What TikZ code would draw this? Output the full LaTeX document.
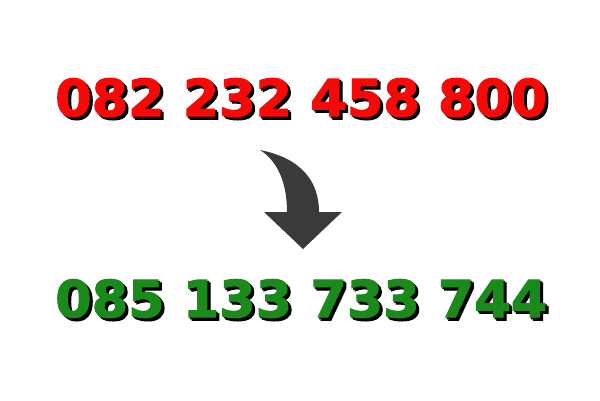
\documentclass[tikz,border=0pt]{standalone}
\usepackage{fontspec}
\usepackage{graphicx}
\newfontfamily\digitfont{DejaVu Sans Bold}[FakeBold=2]
% digits with a black shadow to the lower right, as one box
\newcommand{\shadowcopy}[2]{\makebox[0pt][l]{\hspace{#1}\raisebox{-#1}{\color{black}#2}}}
\newcommand{\phonenum}[2]{\resizebox{492pt}{38pt}{\digitfont
	\shadowcopy{0.03em}{#2}\shadowcopy{0.06em}{#2}\textcolor{#1}{#2}}}
\definecolor{oldred}{RGB}{250,8,8}
\definecolor{newgreen}{RGB}{26,138,26}
\definecolor{arrowgray}{RGB}{58,58,58}

\begin{document}
\begin{tikzpicture}[x = 1pt, y = -1pt,
		digits/.style = {inner sep = 0pt, anchor = north west}]
		\useasboundingbox[fill = white] (0, 0) rectangle (600, 400);
		%%%%%%%%%%%%%
		\node[digits] (old) at (55, 78) {\phonenum{oldred}{082 232 458 800}};
		\node[digits] (new) at (55, 279) {\phonenum{newgreen}{085 133 733 744}};
		%%%%%%%%%%%%%
		\fill[arrowgray] (260, 150) .. controls (300, 158) and (319, 180) .. (319, 212)
			-- (342, 212) -- (303, 249) -- (264, 212) -- (287, 212)
			.. controls (287, 185) and (279, 162) .. cycle;
\end{tikzpicture}
\end{document}
